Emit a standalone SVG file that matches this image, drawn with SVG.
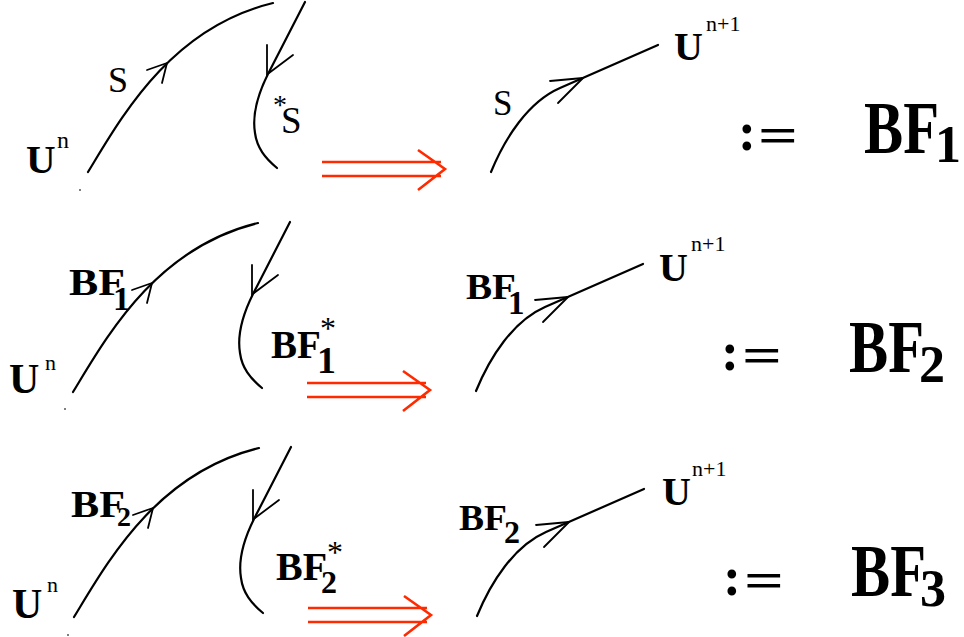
<svg xmlns="http://www.w3.org/2000/svg" xmlns:xlink="http://www.w3.org/1999/xlink" width="964" height="637" viewBox="0 0 964 637">
<style>
.c{fill:none;stroke:#000;stroke-width:2.2;stroke-linecap:round;stroke-linejoin:round}
.h{fill:none;stroke:#000;stroke-width:1.8;stroke-linecap:round;stroke-linejoin:round}
.r{fill:none;stroke:#ff2a00;stroke-width:2.6}
text{font-family:"Liberation Serif","Times New Roman",serif;fill:#000}
.b{font-weight:bold}
.dot{fill:#555}
</style>
<defs>
<g id="leftPair">
<path class="c" d="M88,172 C121,118 170,28 273,3"/>
<path class="h" d="M147,70 L167,63 L162,83"/>
<path class="c" d="M305,2 L268,74 C258,94 252,115 255,133 C257,148 265,158 277,168"/>
<path class="h" d="M267,45 L267,75 M293,55 L269,73"/>
</g>
<g id="rightCurve">
<path class="c" d="M491,172 C505,138 528,102 560,88 L658,45"/>
<path class="h" d="M550,81 L583,78 L558,103"/>
</g>
<path id="implies" class="r" d="M322,162 H441 M322,176 H441 M418,150 L445,169 L418,190"/>
</defs>
<rect width="964" height="637" fill="#fff"/>

<g id="connectors">
<use xlink:href="#leftPair"/>
<use xlink:href="#rightCurve"/>
<use xlink:href="#implies"/>
<use xlink:href="#leftPair" transform="translate(-15,220)"/>
<use xlink:href="#rightCurve" transform="translate(-15,219)"/>
<use xlink:href="#implies" transform="translate(-15,221)"/>
<use xlink:href="#leftPair" transform="translate(-14,445)"/>
<use xlink:href="#rightCurve" transform="translate(-14,444)"/>
<use xlink:href="#implies" transform="translate(-14,446)"/>
</g>

<g id="row1">
<text x="108" y="92" font-size="36">S</text>
<text x="273" y="114" font-size="28">*</text>
<text x="281" y="133" font-size="37">S</text>
<text class="b" x="26" y="173" font-size="41">U</text>
<text x="57" y="148" font-size="24">n</text>
<circle class="dot" cx="80" cy="190" r="1"/>
<text x="493" y="115" font-size="35">S</text>
<text class="b" x="674" y="60" font-size="40">U</text>
<text x="706" y="31" font-size="22">n+1</text>
<text class="b" x="738" y="150" font-size="54">:</text>
<text class="b" x="758" y="152" font-size="50" textLength="40" lengthAdjust="spacingAndGlyphs">=</text>
<text class="b" x="864" y="153" font-size="75" textLength="75" lengthAdjust="spacingAndGlyphs">BF</text>
<text class="b" x="935" y="162" font-size="52">1</text>
</g>

<g id="row2">
<text class="b" x="69" y="295" font-size="38" textLength="56" lengthAdjust="spacingAndGlyphs">BF</text>
<text class="b" x="113" y="310" font-size="34">1</text>
<text class="b" x="9" y="393" font-size="42">U</text>
<text x="45" y="370" font-size="22">n</text>
<circle class="dot" cx="65" cy="409" r="1"/>
<text class="b" x="271" y="358" font-size="39">BF</text>
<text class="b" x="317" y="373" font-size="38">1</text>
<text x="320" y="339" font-size="32">*</text>
<text class="b" x="466" y="299" font-size="35" textLength="50" lengthAdjust="spacingAndGlyphs">BF</text>
<text class="b" x="508" y="314" font-size="33">1</text>
<text class="b" x="659" y="281" font-size="40">U</text>
<text x="691" y="251" font-size="22">n+1</text>
<text class="b" x="721" y="370" font-size="54">:</text>
<text class="b" x="742" y="372" font-size="50" textLength="40" lengthAdjust="spacingAndGlyphs">=</text>
<text class="b" x="849" y="372" font-size="75" textLength="75" lengthAdjust="spacingAndGlyphs">BF</text>
<text class="b" x="919" y="382" font-size="52">2</text>
</g>

<g id="row3">
<text class="b" x="71" y="517" font-size="38" textLength="54" lengthAdjust="spacingAndGlyphs">BF</text>
<text class="b" x="117" y="526" font-size="28">2</text>
<text class="b" x="12" y="618" font-size="42">U</text>
<text x="47" y="592" font-size="22">n</text>
<circle class="dot" cx="68" cy="635" r="1"/>
<text class="b" x="276" y="580" font-size="40">BF</text>
<text class="b" x="321" y="593" font-size="32">2</text>
<text x="327" y="563" font-size="32">*</text>
<text class="b" x="459" y="530" font-size="36" textLength="48" lengthAdjust="spacingAndGlyphs">BF</text>
<text class="b" x="504" y="543" font-size="32">2</text>
<text class="b" x="662" y="505" font-size="40">U</text>
<text x="692" y="476" font-size="22">n+1</text>
<text class="b" x="723" y="595" font-size="54">:</text>
<text class="b" x="744" y="597" font-size="50" textLength="40" lengthAdjust="spacingAndGlyphs">=</text>
<text class="b" x="851" y="596" font-size="75" textLength="75" lengthAdjust="spacingAndGlyphs">BF</text>
<text class="b" x="920" y="606" font-size="52">3</text>
</g>
</svg>
